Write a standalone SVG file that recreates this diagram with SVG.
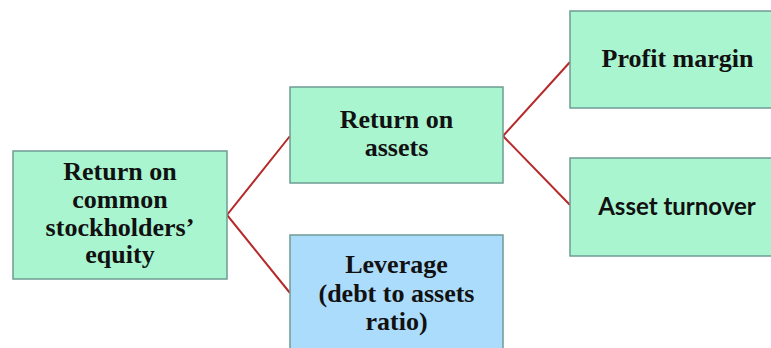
<svg xmlns="http://www.w3.org/2000/svg" width="771" height="348" viewBox="0 0 771 348">
  <style>
    .box { stroke: #6f9c94; stroke-width: 1.5; }
    .green { fill: #a9f5d0; }
    .blue { fill: #acdcfb; }
    .t { font-family: "Liberation Serif", "Times New Roman", serif; font-weight: bold; font-size: 26px; fill: #111; text-anchor: middle; }
    .s { font-family: Lato, "Liberation Sans", sans-serif; font-weight: bold; font-size: 24px; fill: #111; text-anchor: middle; }
    .c { stroke: #b52a2a; stroke-width: 2; fill: none; }
  </style>
  <rect width="771" height="348" fill="#ffffff"/>
  <g id="connectors">
    <polyline class="c" points="290,136 227,215 290,293"/>
    <polyline class="c" points="570,62 503,136 570,205"/>
  </g>
  <g id="roe">
    <rect class="box green" x="13" y="151" width="214" height="128"/>
    <text class="t" x="120" y="180">Return on</text>
    <text class="t" x="120" y="208">common</text>
    <text class="t" x="120" y="236">stockholders’</text>
    <text class="t" x="120" y="263">equity</text>
  </g>
  <g id="roa">
    <rect class="box green" x="290" y="87" width="213" height="96"/>
    <text class="t" x="396.5" y="128">Return on</text>
    <text class="t" x="396.5" y="156">assets</text>
  </g>
  <g id="leverage">
    <rect class="box blue" x="290" y="235" width="213" height="120"/>
    <text class="t" x="396.5" y="273">Leverage</text>
    <text class="t" x="396.5" y="302">(debt to assets</text>
    <text class="t" x="396.5" y="330">ratio)</text>
  </g>
  <g id="profit-margin">
    <rect class="box green" x="570" y="11" width="215" height="97"/>
    <text class="t" x="677.5" y="67">Profit margin</text>
  </g>
  <g id="asset-turnover">
    <rect class="box green" x="570" y="158" width="215" height="98"/>
    <text class="s" x="677" y="215">Asset turnover</text>
  </g>
</svg>
